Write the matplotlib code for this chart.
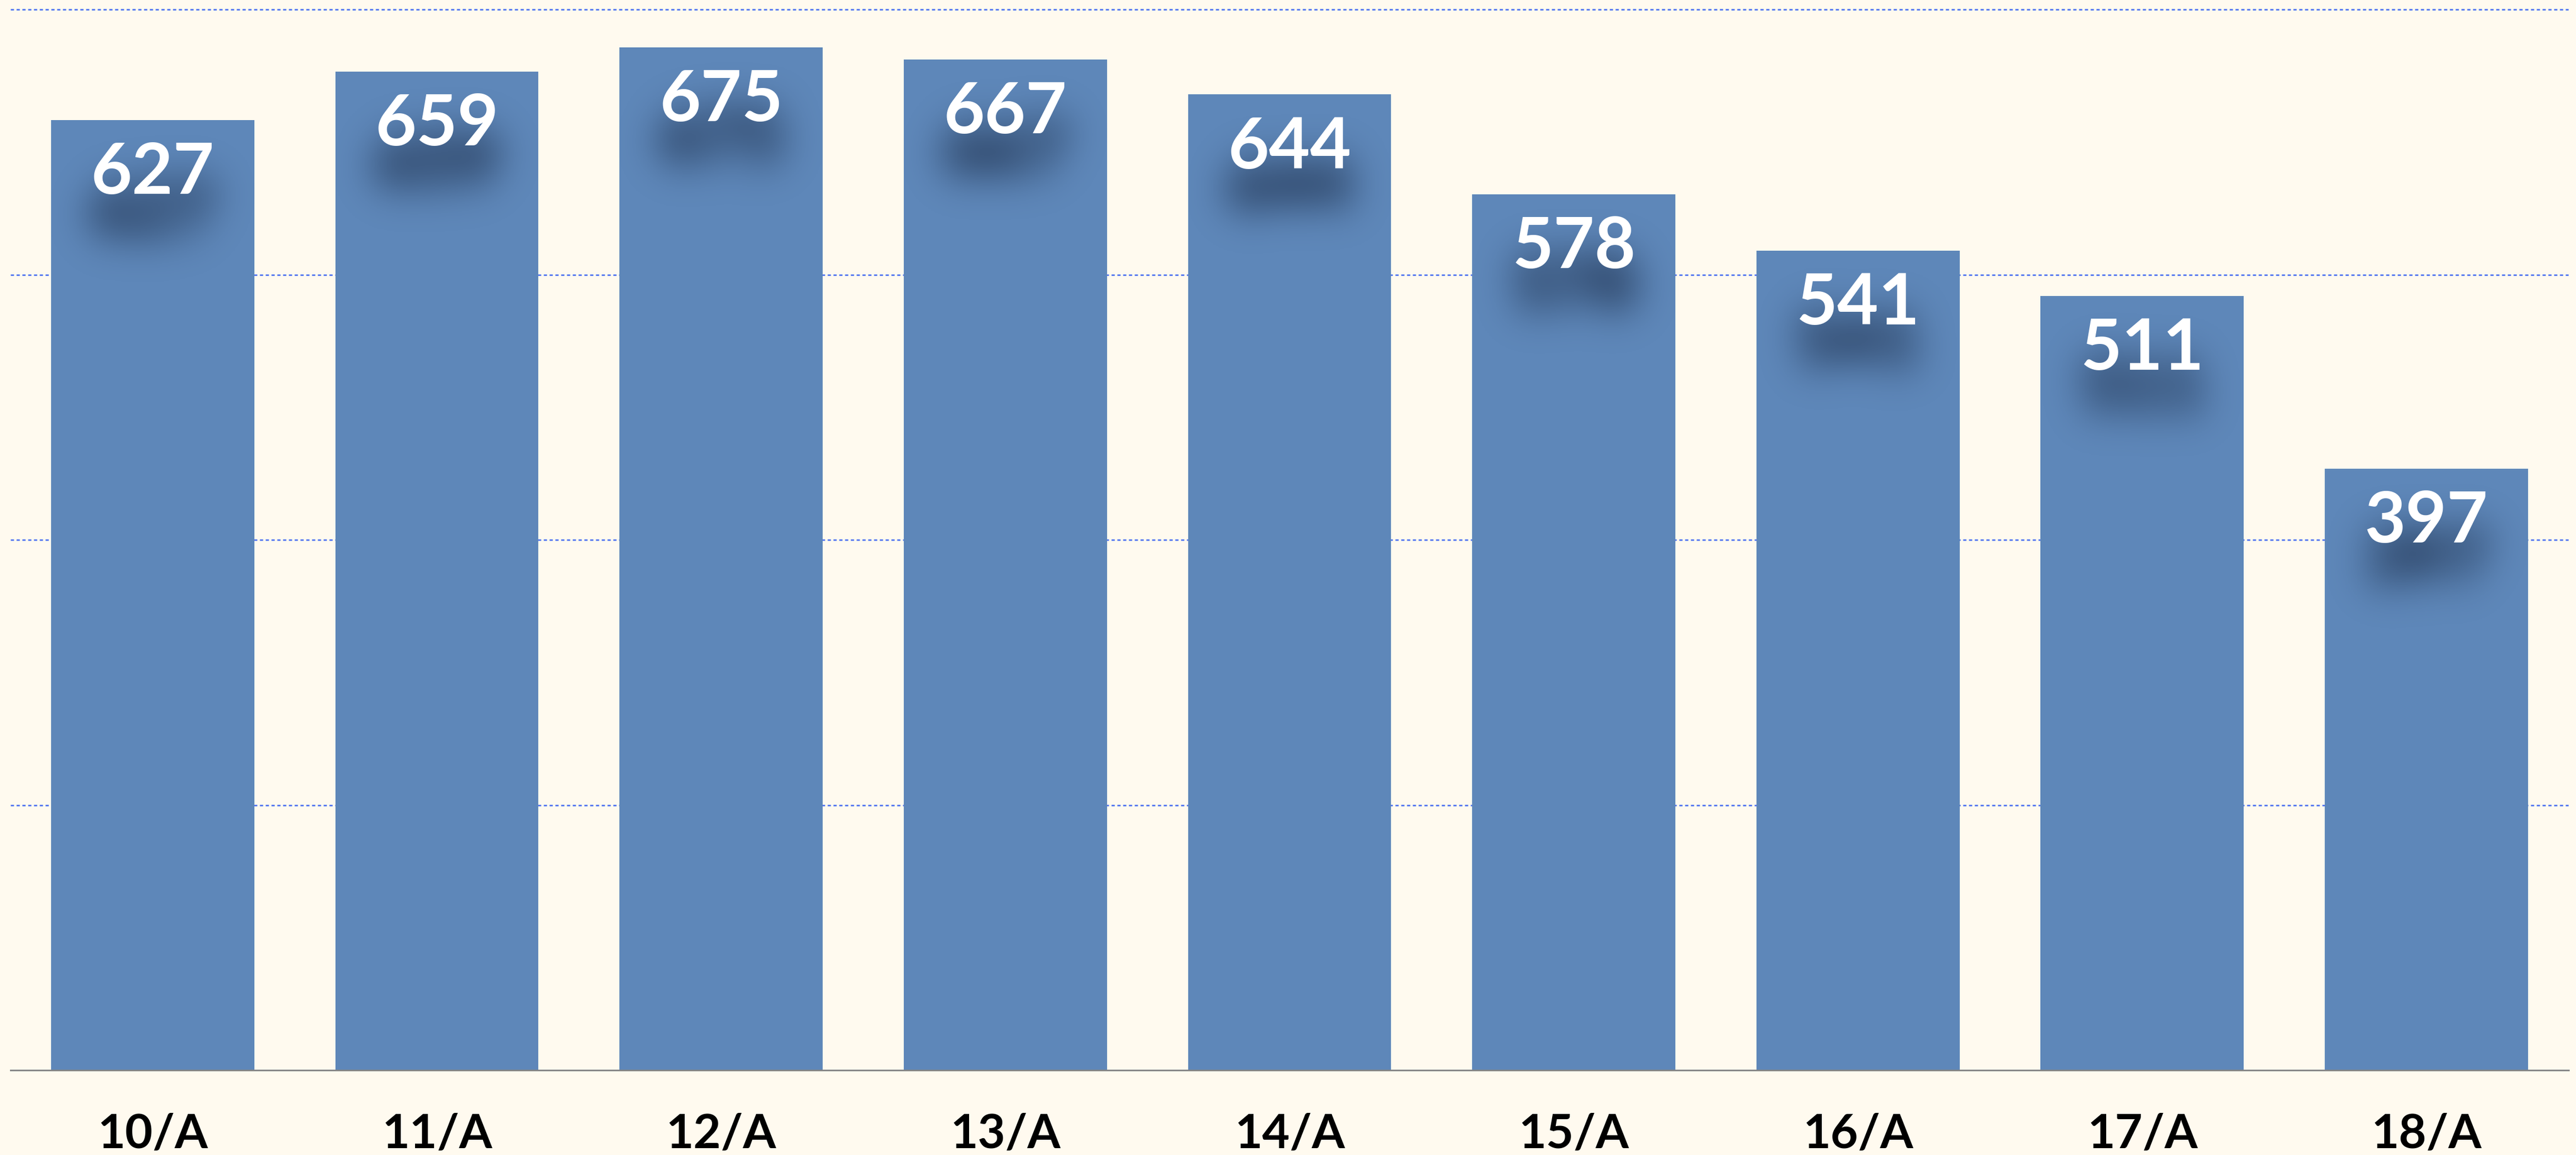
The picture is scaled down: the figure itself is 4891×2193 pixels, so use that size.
import numpy as np
import matplotlib
matplotlib.use('Agg')
import matplotlib.pyplot as plt

classes = ['10/A', '11/A', '12/A', '13/A', '14/A', '15/A', '16/A', '17/A', '18/A']
counts = [627, 659, 675, 667, 644, 578, 541, 511, 397]
grid_levels = [175, 350, 525, 700]

BG = '#fffaef'
BAR = '#5e87b9'
GRID = '#5b7cf0'


def box_blur(a, r, axis):
    a = np.moveaxis(a, axis, 0)
    pad = [(r + 1, r)] + [(0, 0)] * (a.ndim - 1)
    c = np.cumsum(np.pad(a, pad), axis=0)
    out = (c[2 * r + 1:] - c[:-(2 * r + 1)]) / (2 * r + 1)
    return np.moveaxis(out, 0, axis)


def blurred_shadow(im, dpi):
    # agg filter: gaussian-ish blur of the glyph mask, shifted downwards
    scale = dpi / 100.0
    r = max(1, int(26 * scale))
    pad = 4 * r
    drop = int(38 * scale)
    mask = np.pad(im[..., 3], pad)
    for _ in range(3):
        mask = box_blur(mask, r, 0)
        mask = box_blur(mask, r, 1)
    out = np.zeros(mask.shape + (4,))
    out[..., 0] = 0.04
    out[..., 1] = 0.09
    out[..., 2] = 0.18
    out[..., 3] = np.clip(mask * 1.1, 0, 1)
    return out, -pad, -pad - drop


def main():
    fig = plt.figure(figsize=(48.91, 21.93), dpi=100, facecolor=BG)
    ax = fig.add_axes([0.0041, 0.0734, 0.9930, 0.9249])
    ax.set_facecolor(BG)

    x = range(len(classes))
    ax.bar(x, counts, width=0.715, color=BAR, zorder=2)

    ax.set_xlim(-0.5, len(classes) - 0.5)
    ax.set_ylim(0, 705)
    ax.set_yticks(grid_levels)
    ax.set_yticklabels([])
    ax.tick_params(axis='y', length=0)
    ax.grid(axis='y', color=GRID, linewidth=2.2, linestyle=(0, (2, 1.6)), zorder=0)
    ax.set_axisbelow(True)

    for side in ['left', 'right', 'top']:
        ax.spines[side].set_visible(False)
    ax.spines['bottom'].set_color('#858585')
    ax.spines['bottom'].set_linewidth(2.2)
    ax.spines['bottom'].set_zorder(3)

    ax.set_xticks(list(x))
    ax.set_xticklabels(classes, fontsize=65, fontweight='bold', family=['Lato', 'DejaVu Sans'],
                       color='black')
    ax.tick_params(axis='x', length=0, pad=106)
    plt.setp(ax.get_xticklabels(), va='baseline')

    label_kw = dict(xytext=(0, -101), textcoords='offset points', ha='center', va='baseline',
                    fontsize=97, fontweight='bold', family=['Lato', 'DejaVu Sans'])
    for i, v in zip(x, counts):
        shadow = ax.annotate(str(v), xy=(i, v), color='black', zorder=3, **label_kw)
        shadow.set_agg_filter(blurred_shadow)
        ax.annotate(str(v), xy=(i, v), color='white', zorder=4, **label_kw)

    fig.savefig('out.png', dpi=100, facecolor=BG)


if __name__ == '__main__':
    main()
